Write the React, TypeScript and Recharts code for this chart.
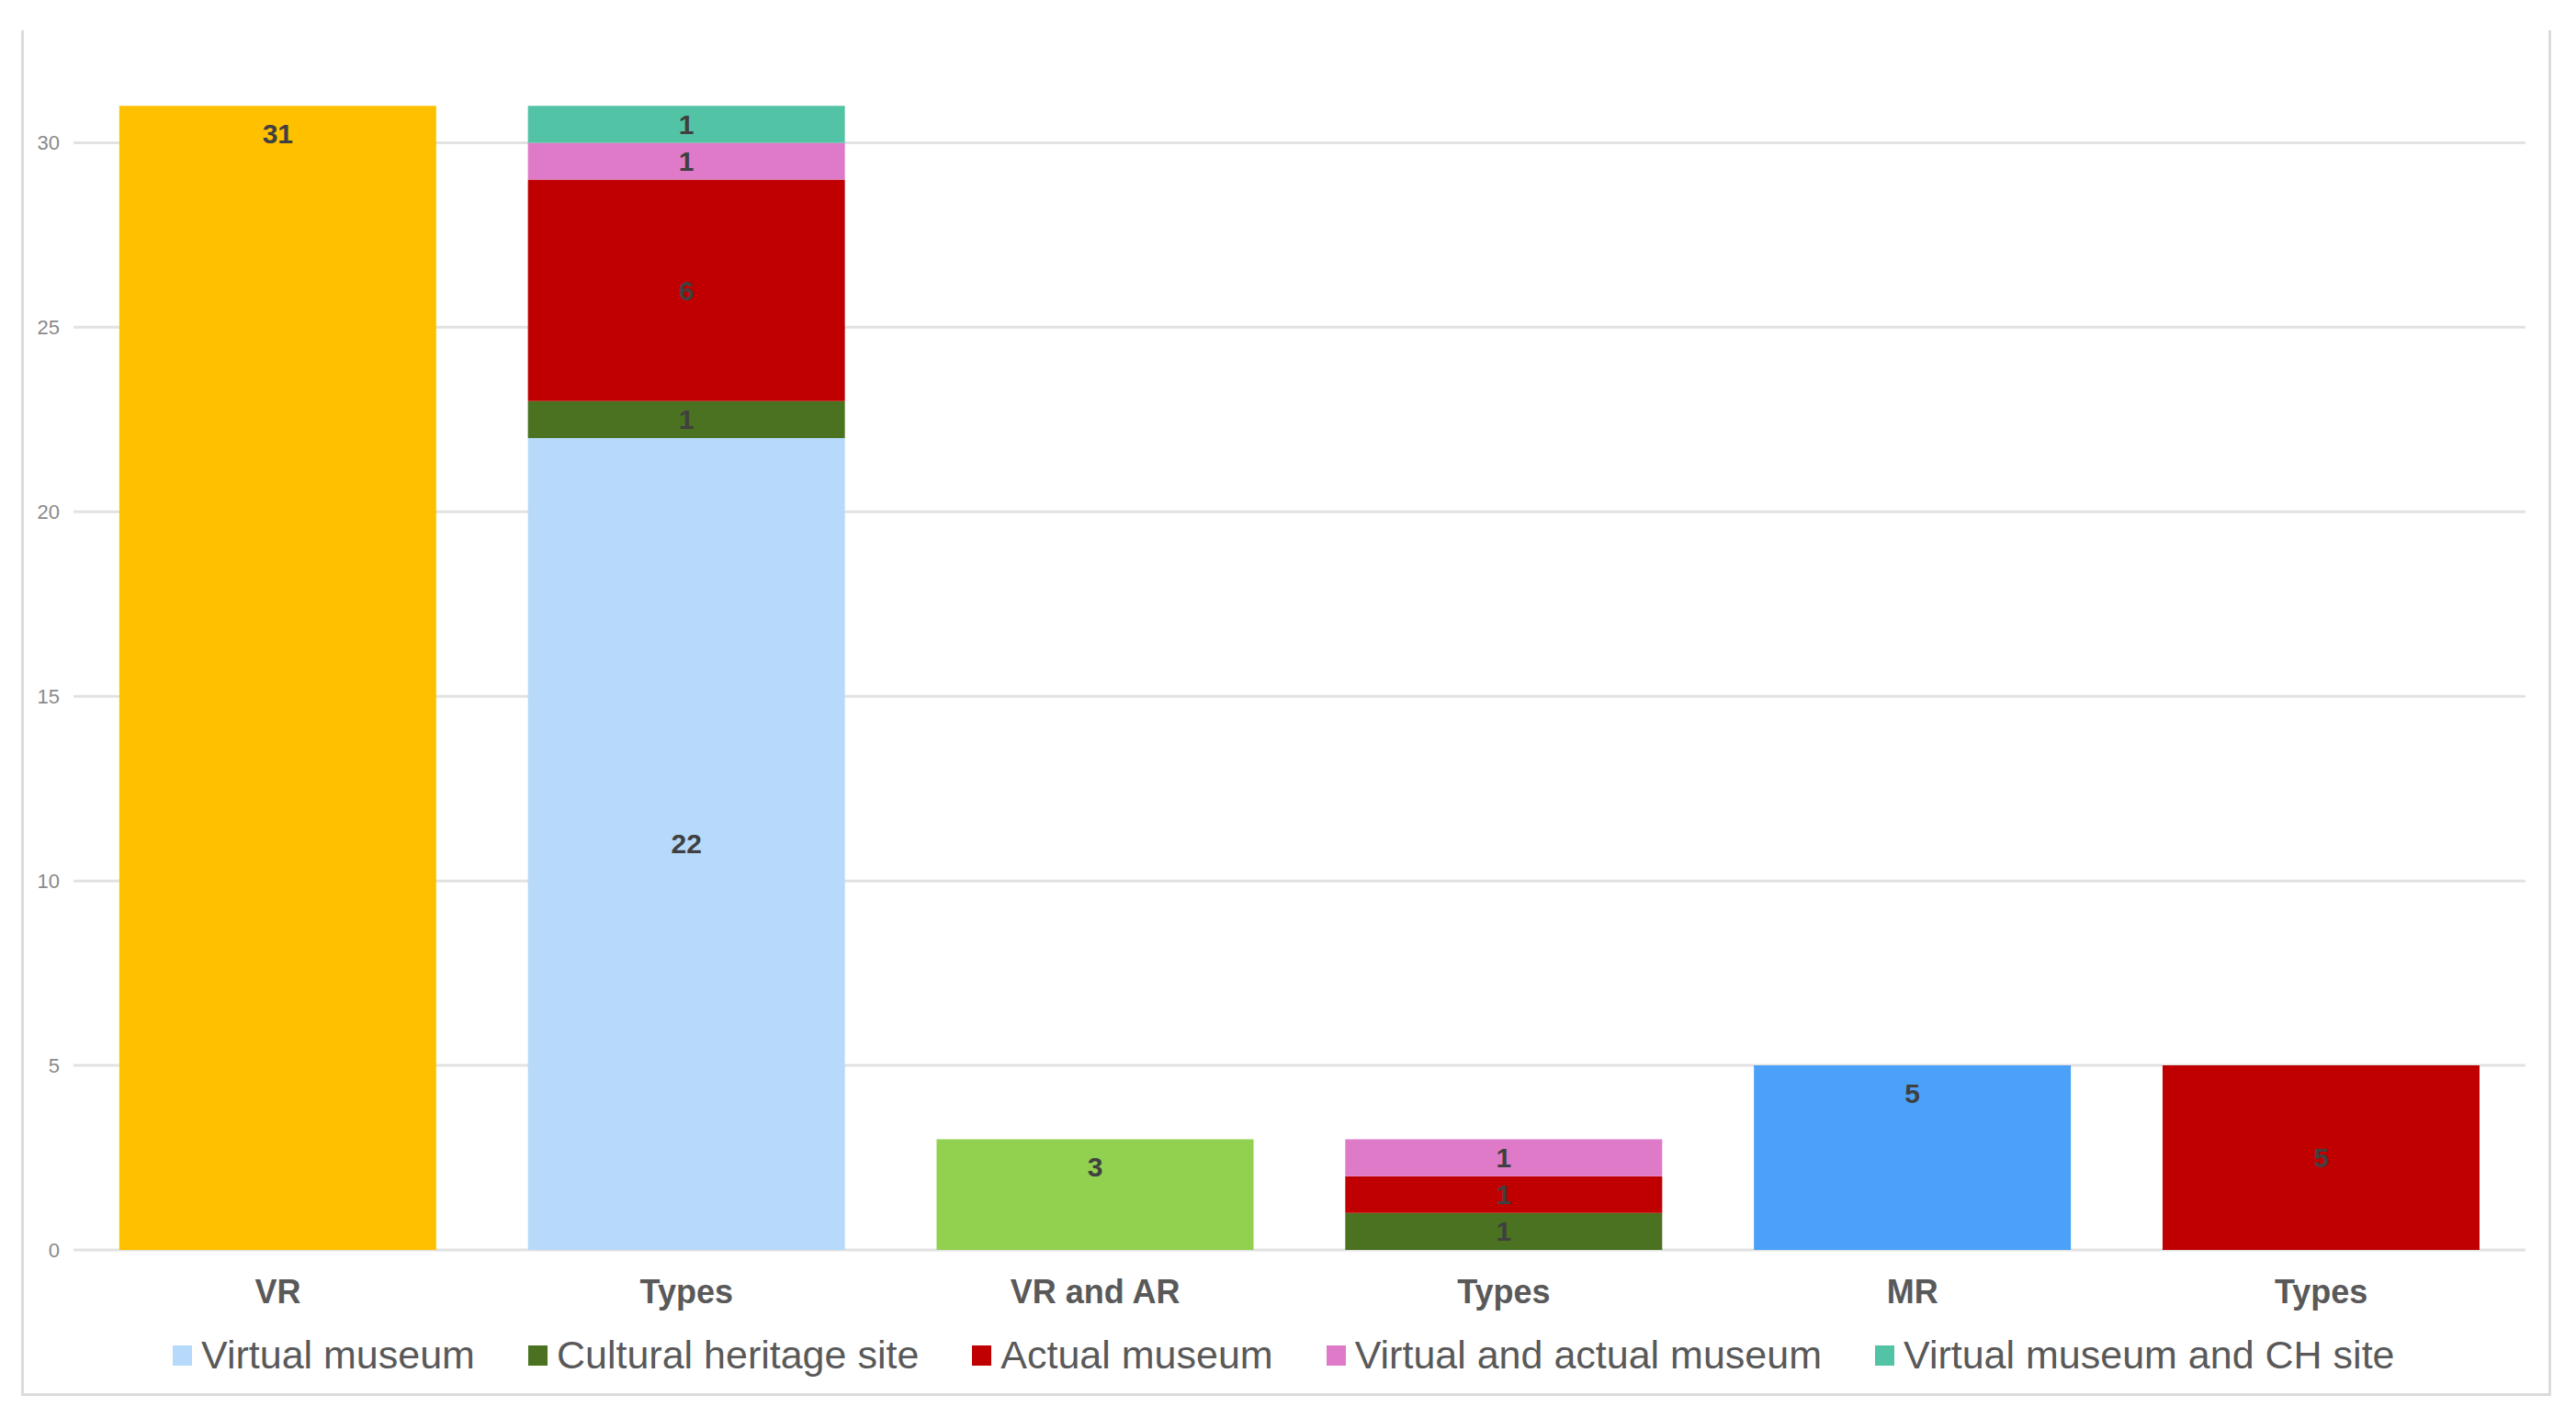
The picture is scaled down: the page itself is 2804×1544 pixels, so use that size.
import {
  BarChart,
  Bar,
  XAxis,
  YAxis,
  CartesianGrid,
  Legend,
  LabelList,
} from "recharts";

const categories = ["VR", "Types", "VR and AR", "Types", "MR", "Types"];

// totals per technology
const vrTotal = [31, 0, 0, 0, 0, 0];
const vrArTotal = [0, 0, 3, 0, 0, 0];
const mrTotal = [0, 0, 0, 0, 5, 0];

// breakdown by type
const virtualMuseum = [0, 22, 0, 0, 0, 0];
const culturalHeritageSite = [0, 1, 0, 1, 0, 0];
const actualMuseum = [0, 6, 0, 1, 0, 5];
const virtualAndActual = [0, 1, 0, 1, 0, 0];
const virtualAndCH = [0, 1, 0, 0, 0, 0];

const yTicks = [0, 5, 10, 15, 20, 25, 30];

const data = categories.map((name, i) => ({
  name,
  vr: vrTotal[i],
  vrar: vrArTotal[i],
  mr: mrTotal[i],
  vm: virtualMuseum[i],
  chs: culturalHeritageSite[i],
  am: actualMuseum[i],
  vam: virtualAndActual[i],
  vmch: virtualAndCH[i],
}));

const totalSeries = [
  { key: "vr", name: "VR", color: "#FFC000" },
  { key: "vrar", name: "VR and AR", color: "#92D050" },
  { key: "mr", name: "MR", color: "#4BA1F7" },
];

const typeSeries = [
  { key: "vm", name: "Virtual museum", color: "#B7D9FA" },
  { key: "chs", name: "Cultural heritage site", color: "#4A7220" },
  { key: "am", name: "Actual museum", color: "#C00000" },
  { key: "vam", name: "Virtual and actual museum", color: "#DF7AC9" },
  { key: "vmch", name: "Virtual museum and CH site", color: "#53C3A6" },
];

const FONT = "'Liberation Sans', Arial, sans-serif";

const centerLabel = (props: any) => {
  const { x, y, width, height, value } = props;
  if (!value) return null;
  return (
    <text
      x={x + width / 2}
      y={y + height / 2}
      textAnchor="middle"
      dominantBaseline="central"
      fill="#404040"
      fontSize={30}
      fontWeight="bold"
      fontFamily={FONT}
    >
      {value}
    </text>
  );
};

const topLabel = (props: any) => {
  const { x, y, width, value } = props;
  if (!value) return null;
  return (
    <text
      x={x + width / 2}
      y={y + 30}
      textAnchor="middle"
      dominantBaseline="central"
      fill="#404040"
      fontSize={30}
      fontWeight="bold"
      fontFamily={FONT}
    >
      {value}
    </text>
  );
};

const renderLegend = () => (
  <div
    style={{
      display: "flex",
      alignItems: "center",
      paddingLeft: 188,
      height: 43,
      fontFamily: FONT,
      fontSize: 43,
      color: "#595959",
      whiteSpace: "nowrap",
    }}
  >
    {typeSeries.map((s) => (
      <div
        key={s.key}
        style={{ display: "flex", alignItems: "center", marginRight: 58 }}
      >
        <span
          style={{
            display: "inline-block",
            width: 21,
            height: 22,
            background: s.color,
            marginRight: 10,
          }}
        />
        <span>{s.name}</span>
      </div>
    ))}
  </div>
);

export default function App() {
  return (
    <div
      style={{
        position: "absolute",
        left: 0,
        top: 0,
        width: 2804,
        height: 1544,
        background: "#fff",
      }}
    >
      <div
        style={{
          position: "absolute",
          left: 23,
          top: 33,
          width: 2748,
          height: 1484,
          borderLeft: "3px solid #dcdcdc",
          borderRight: "3px solid #dcdcdc",
          borderBottom: "3px solid #dcdcdc",
        }}
      />
      <div style={{ position: "absolute", left: 0, top: 0 }}>
        <BarChart
          width={2804}
          height={1544}
          data={data}
          margin={{ top: 75, right: 55, left: 0, bottom: 0 }}
          barCategoryGap="11.2%"
        >
          <CartesianGrid
            vertical={false}
            stroke="#e2e2e2"
            strokeWidth={3}
            horizontalValues={yTicks}
          />
          <XAxis
            dataKey="name"
            height={93}
            axisLine={false}
            tickLine={false}
            tickSize={0}
            tickMargin={32}
            tick={{
              fill: "#595959",
              fontSize: 36,
              fontWeight: "bold",
              fontFamily: FONT,
            }}
          />
          <YAxis
            width={80}
            domain={[0, 32]}
            ticks={yTicks}
            axisLine={false}
            tickLine={false}
            tickSize={0}
            tickMargin={15}
            tick={{ fill: "#8a8a8a", fontSize: 22, fontFamily: FONT }}
          />
          <Legend verticalAlign="bottom" height={90} content={renderLegend} />
          {totalSeries.map((s) => (
            <Bar
              key={s.key}
              dataKey={s.key}
              name={s.name}
              stackId="a"
              fill={s.color}
              legendType="none"
              isAnimationActive={false}
            >
              <LabelList dataKey={s.key} content={topLabel} />
            </Bar>
          ))}
          {typeSeries.map((s) => (
            <Bar
              key={s.key}
              dataKey={s.key}
              name={s.name}
              stackId="a"
              fill={s.color}
              isAnimationActive={false}
            >
              <LabelList dataKey={s.key} content={centerLabel} />
            </Bar>
          ))}
        </BarChart>
      </div>
    </div>
  );
}
